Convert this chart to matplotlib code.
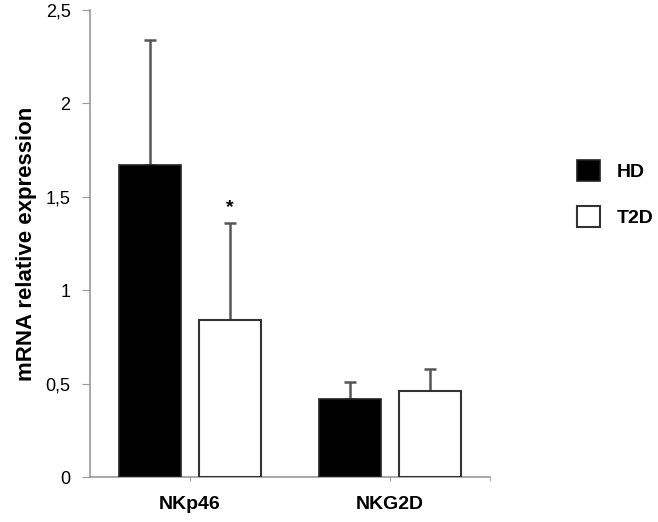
import numpy as np
import matplotlib.pyplot as plt

plt.rcParams['font.family'] = ['Liberation Sans', 'DejaVu Sans']

# dane
categories = ['NKp46', 'NKG2D']
hd_mean = [1.67, 0.42]
hd_err = [0.67, 0.09]
t2d_mean = [0.84, 0.46]
t2d_err = [0.52, 0.12]
star_y = 1.44

x = np.arange(len(categories))
w = 0.307

fig = plt.figure(figsize=(6.58, 5.22), dpi=100)
ax = fig.add_axes([0.1368, 0.0862, 0.6079, 0.8946])

ax.bar(x - 0.2, hd_mean, w, color='black', edgecolor='#222222', linewidth=1.2,
       label='HD', zorder=3)
ax.bar(x + 0.2, t2d_mean, w, color='white', edgecolor='#333333', linewidth=1.5,
       label='T2D', zorder=3)

ax.errorbar(x - 0.2, hd_mean, yerr=[np.zeros(2), hd_err], fmt='none',
            ecolor='#555555', elinewidth=1.8, capsize=4.3, capthick=1.8, zorder=2)
ax.errorbar(x + 0.2, t2d_mean, yerr=[np.zeros(2), t2d_err], fmt='none',
            ecolor='#555555', elinewidth=1.8, capsize=4.3, capthick=1.8, zorder=2)

ax.text(0.2, star_y, '*', ha='center', va='center', fontsize=14, fontweight='bold')

ax.set_xlim(-0.5, 1.5)
ax.set_ylim(0, 2.5)
ax.set_yticks([0, 0.5, 1, 1.5, 2, 2.5])
ax.set_yticklabels(['0', '0,5', '1', '1,5', '2', '2,5'], fontsize=13)
ax.set_xticks(x)
ax.set_xticklabels(categories, fontsize=14, fontweight='bold')
ax.set_xticks([1.5], minor=True)
ax.tick_params(axis='y', direction='out', length=6, color='#999999', pad=8)
ax.tick_params(axis='x', which='both', direction='out', length=3, color='#999999', pad=11)
ax.set_ylabel('mRNA relative expression', fontsize=16, fontweight='bold', labelpad=6)

for s in ['top', 'right']:
    ax.spines[s].set_visible(False)
for s in ['left', 'bottom']:
    ax.spines[s].set_color('#999999')
    ax.spines[s].set_linewidth(1.2)

fig.legend(loc='upper left', bbox_to_anchor=(577 / 658, 1 - 160 / 522), frameon=False,
           prop={'size': 14, 'weight': 'bold'}, handlelength=1.2, handleheight=1.25,
           handletextpad=0.85, labelspacing=1.3, borderpad=0, borderaxespad=0)

fig.savefig('out.png', dpi=100)
